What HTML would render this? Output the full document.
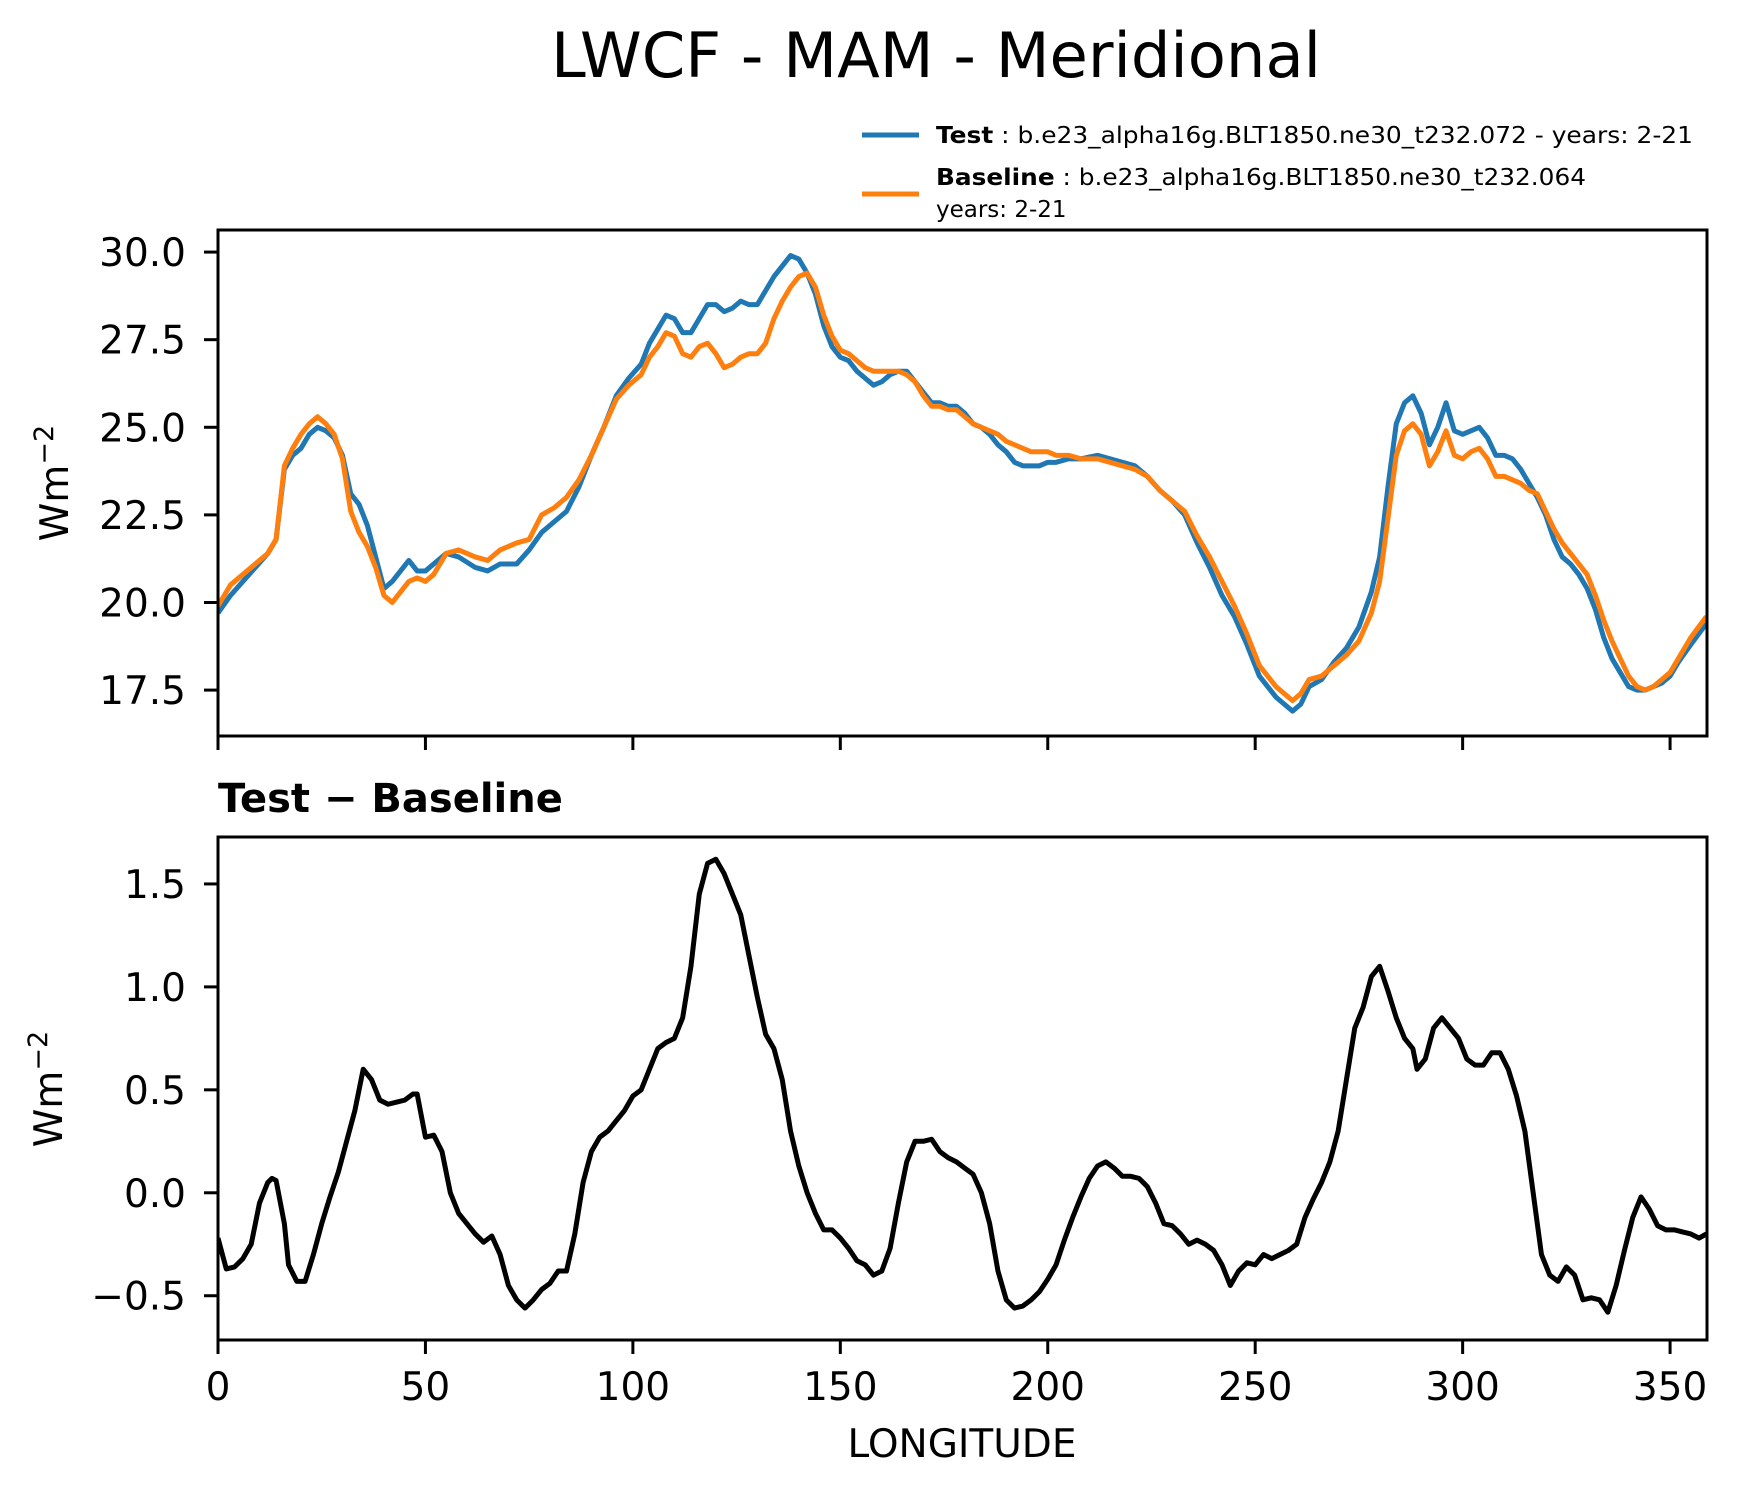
<!DOCTYPE html>
<html><head><meta charset="utf-8"><style>
html,body{margin:0;padding:0;background:#fff}
svg{display:block;font-family:"DejaVu Sans","Liberation Sans",sans-serif}
</style></head><body>
<svg id="fig" width="1739" height="1496" viewBox="0 0 1739 1496" xmlns="http://www.w3.org/2000/svg">
<rect width="1739" height="1496" fill="#fff"/>
<text x="936" y="77" font-size="62" text-anchor="middle" textLength="770" lengthAdjust="spacingAndGlyphs">LWCF - MAM - Meridional</text>
<g>
<line x1="862" y1="135" x2="919" y2="135" stroke="#1f77b4" stroke-width="5"/>
<text x="936" y="143" font-size="23" textLength="757" lengthAdjust="spacingAndGlyphs"><tspan font-weight="bold">Test</tspan> : b.e23_alpha16g.BLT1850.ne30_t232.072 - years: 2-21</text>
<line x1="862" y1="194" x2="919" y2="194" stroke="#ff7f0e" stroke-width="5"/>
<text x="936" y="185" font-size="23" textLength="650" lengthAdjust="spacingAndGlyphs"><tspan font-weight="bold">Baseline</tspan> : b.e23_alpha16g.BLT1850.ne30_t232.064</text>
<text x="936" y="217" font-size="23">years: 2-21</text>
</g>
<g id="top"></g>
<g id="bot"></g>
<text x="218" y="812" font-size="40" font-weight="bold">Test − Baseline</text>
<text x="962" y="1457" font-size="39" text-anchor="middle">LONGITUDE</text>
<text transform="translate(68,483) rotate(-90)" font-size="39" text-anchor="middle">Wm<tspan dy="-15" font-size="27">−2</tspan></text>
<text transform="translate(62,1089) rotate(-90)" font-size="39" text-anchor="middle">Wm<tspan dy="-15" font-size="27">−2</tspan></text>
</svg>
<script>
const lon=[0,3,6,9,12,14,16,18,20,22,24,26,28,30,32,34,36,38,40,42,44,46,48,50,52,55,58,62,65,68,72,75,78,81,84,87,90,93,96,99,102,104,106,108,110,112,114,116,118,120,122,124,126,128,130,132,134,136,138,140,142,144,146,148,150,152,154,156,158,160,162,164,166,168,170,172,174,176,178,180,182,184,186,188,190,192,194,196,198,200,202,205,208,212,215,218,221,224,227,230,233,236,239,242,245,248,251,253,255,257,259,261,263,266,269,272,275,278,280,282,284,286,288,290,292,294,296,298,300,302,304,306,308,310,312,314,316,318,320,322,324,326,328,330,332,334,336,338,340,342,344,346,348,350,352,355,358.75];
const testVals=[19.7,20.2,20.6,21.0,21.4,21.8,23.8,24.2,24.4,24.8,25.0,24.9,24.7,24.2,23.1,22.8,22.2,21.3,20.4,20.6,20.9,21.2,20.9,20.9,21.1,21.4,21.3,21.0,20.9,21.1,21.1,21.5,22.0,22.3,22.6,23.3,24.2,25.0,25.9,26.4,26.8,27.4,27.8,28.2,28.1,27.7,27.7,28.1,28.5,28.5,28.3,28.4,28.6,28.5,28.5,28.9,29.3,29.6,29.9,29.8,29.4,28.8,27.9,27.3,27.0,26.9,26.6,26.4,26.2,26.3,26.5,26.6,26.6,26.3,26.0,25.7,25.7,25.6,25.6,25.4,25.1,25.0,24.8,24.5,24.3,24.0,23.9,23.9,23.9,24.0,24.0,24.1,24.1,24.2,24.1,24.0,23.9,23.6,23.2,22.9,22.5,21.7,21.0,20.2,19.6,18.8,17.9,17.6,17.3,17.1,16.9,17.1,17.6,17.8,18.3,18.7,19.3,20.3,21.3,23.3,25.1,25.7,25.9,25.4,24.5,25.0,25.7,24.9,24.8,24.9,25.0,24.7,24.2,24.2,24.1,23.8,23.4,23.0,22.5,21.8,21.3,21.1,20.8,20.4,19.8,19.0,18.4,18.0,17.6,17.5,17.5,17.6,17.7,17.9,18.3,18.8,19.4];
const baseVals=[19.9,20.5,20.8,21.1,21.4,21.8,23.9,24.4,24.8,25.1,25.3,25.1,24.8,24.1,22.6,22.0,21.6,21.0,20.2,20.0,20.3,20.6,20.7,20.6,20.8,21.4,21.5,21.3,21.2,21.5,21.7,21.8,22.5,22.7,23.0,23.5,24.2,25.0,25.8,26.2,26.5,27.0,27.3,27.7,27.6,27.1,27.0,27.3,27.4,27.1,26.7,26.8,27.0,27.1,27.1,27.4,28.1,28.6,29.0,29.3,29.4,29.0,28.2,27.6,27.2,27.1,26.9,26.7,26.6,26.6,26.6,26.6,26.5,26.3,25.9,25.6,25.6,25.5,25.5,25.3,25.1,25.0,24.9,24.8,24.6,24.5,24.4,24.3,24.3,24.3,24.2,24.2,24.1,24.1,24.0,23.9,23.8,23.6,23.2,22.9,22.6,21.9,21.3,20.6,19.9,19.1,18.2,17.9,17.6,17.4,17.2,17.4,17.8,17.9,18.2,18.5,18.9,19.7,20.6,22.4,24.2,24.9,25.1,24.8,23.9,24.3,24.9,24.2,24.1,24.3,24.4,24.1,23.6,23.6,23.5,23.4,23.2,23.1,22.6,22.1,21.7,21.4,21.1,20.8,20.2,19.5,18.9,18.4,17.9,17.6,17.5,17.6,17.8,18.0,18.4,19.0,19.6];
const diffLon=[0,2,4,6,8,10,12,13,14,16,17,19,21,23,25,27,29,31,33,35,37,39,41,43,45,47,48,50,52,54,56,58,60,62,64,66,68,70,72,74,76,78,80,82,84,86,88,90,92,94,96,98,100,102,104,106,108,110,112,114,116,118,120,122,124,126,128,130,132,134,136,138,140,142,144,146,148,150,152,154,156,158,160,162,164,166,168,170,172,174,176,178,180,182,184,186,188,190,192,194,196,198,200,202,204,206,208,210,212,214,216,218,220,222,224,226,228,230,232,234,236,238,240,242,244,246,248,250,252,254,256,258,260,262,264,266,268,270,272,274,276,278,280,282,284,286,288,289,291,293,295,297,299,301,303,305,307,309,311,313,315,317,319,321,323,325,327,329,331,333,335,337,339,341,343,345,347,349,351,353,355,357,358.75];
const diffVals=[-0.22,-0.37,-0.36,-0.32,-0.25,-0.05,0.05,0.07,0.06,-0.15,-0.35,-0.43,-0.43,-0.3,-0.15,-0.02,0.1,0.25,0.4,0.6,0.55,0.45,0.43,0.44,0.45,0.48,0.48,0.27,0.28,0.2,0.0,-0.1,-0.15,-0.2,-0.24,-0.21,-0.3,-0.45,-0.52,-0.56,-0.52,-0.47,-0.44,-0.38,-0.38,-0.2,0.05,0.2,0.27,0.3,0.35,0.4,0.47,0.5,0.6,0.7,0.73,0.75,0.85,1.1,1.45,1.6,1.62,1.55,1.45,1.35,1.15,0.95,0.77,0.7,0.55,0.3,0.13,0.0,-0.1,-0.18,-0.18,-0.22,-0.27,-0.33,-0.35,-0.4,-0.38,-0.27,-0.05,0.15,0.25,0.25,0.26,0.2,0.17,0.15,0.12,0.09,0.0,-0.15,-0.38,-0.52,-0.56,-0.55,-0.52,-0.48,-0.42,-0.35,-0.23,-0.12,-0.02,0.07,0.13,0.15,0.12,0.08,0.08,0.07,0.03,-0.05,-0.15,-0.16,-0.2,-0.25,-0.23,-0.25,-0.28,-0.35,-0.45,-0.38,-0.34,-0.35,-0.3,-0.32,-0.3,-0.28,-0.25,-0.12,-0.03,0.05,0.15,0.3,0.55,0.8,0.9,1.05,1.1,0.98,0.85,0.75,0.7,0.6,0.65,0.8,0.85,0.8,0.75,0.65,0.62,0.62,0.68,0.68,0.6,0.47,0.3,0.0,-0.3,-0.4,-0.43,-0.36,-0.4,-0.52,-0.51,-0.52,-0.58,-0.45,-0.28,-0.12,-0.02,-0.08,-0.16,-0.18,-0.18,-0.19,-0.2,-0.22,-0.2];
const xTicks=[0,50,100,150,200,250,300,350];
const topTicks=[17.5,20.0,22.5,25.0,27.5,30.0];
const botTicks=[-0.5,0.0,0.5,1.0,1.5];

const NS="http://www.w3.org/2000/svg";
const X0=218,X1=1707,XMIN=0,XMAX=358.9;
const xs=v=>X0+(v-XMIN)/(XMAX-XMIN)*(X1-X0);
function mk(tag,attrs,parent){const e=document.createElementNS(NS,tag);for(const k in attrs)e.setAttribute(k,attrs[k]);parent.appendChild(e);return e;}
function panel(g,top,bottom,ymin,ymax,yt,fmt,showX,prefix){
  const ys=v=>bottom-(v-ymin)/(ymax-ymin)*(bottom-top);
  xTicks.forEach(t=>{
    const l=mk('line',{x1:xs(t),x2:xs(t),y1:bottom,y2:bottom+14,stroke:'#000','stroke-width':3},g);
    
    
    if(showX){const tx=mk('text',{x:xs(t),y:1400,'font-size':39,'text-anchor':'middle'},g);tx.textContent=t;
      
      }
  });
  yt.forEach(t=>{
    const l=mk('line',{x1:X0-14,x2:X0,y1:ys(t),y2:ys(t),stroke:'#000','stroke-width':3},g);
    
    
    const tx=mk('text',{x:186,y:ys(t)+14,'font-size':39,'text-anchor':'end'},g);
    tx.textContent=fmt(t);
    
    
  });
  return ys;
}
function line(g,xv,yv,ys,color,name){
  const d=xv.map((x,i)=>(i?'L':'M')+xs(x).toFixed(2)+' '+ys(yv[i]).toFixed(2)).join(' ');
  const p=mk('path',{d:d,fill:'none',stroke:color,'stroke-width':5,'stroke-linejoin':'round'},g);
  
  
}
function frame(g,top,bottom,name){
  const r=mk('rect',{x:X0,y:top,width:X1-X0,height:bottom-top,fill:'none',stroke:'#000','stroke-width':3},g);
  
  
}
const gt=document.getElementById('top');


const ysT=panel(gt,230,736,16.19,30.63,topTicks,t=>t.toFixed(1),false,'top');
const clipT=mk('clipPath',{id:'ct'},gt);mk('rect',{x:X0,y:230,width:X1-X0,height:506},clipT);
const gtl=mk('g',{'clip-path':'url(#ct)'},gt);
line(gtl,lon,testVals,ysT,'#1f77b4','test-line');
line(gtl,lon,baseVals,ysT,'#ff7f0e','baseline-line');
frame(gt,230,736,'top-axes-frame');
const gb=document.getElementById('bot');


const ysB=panel(gb,837,1340,-0.715,1.728,botTicks,t=>(t<0?'−':'')+Math.abs(t).toFixed(1),true,'bottom');
const clipB=mk('clipPath',{id:'cb'},gb);mk('rect',{x:X0,y:837,width:X1-X0,height:503},clipB);
const gbl=mk('g',{'clip-path':'url(#cb)'},gb);
line(gbl,diffLon,diffVals,ysB,'#000','difference-line');
frame(gb,837,1340,'bottom-axes-frame');
</script>
</body></html>
